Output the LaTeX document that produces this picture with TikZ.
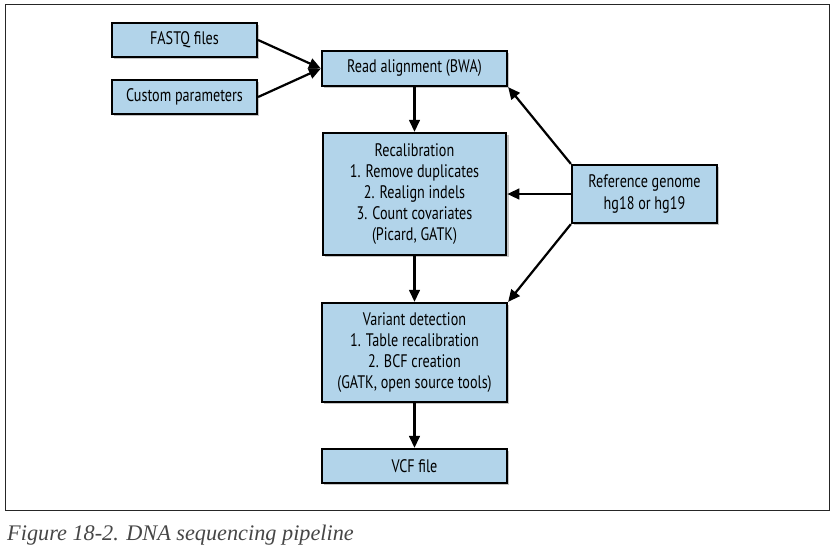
\documentclass[tikz,border=0pt]{standalone}
\usepackage{fontspec}
\setmainfont{PT Sans}[FakeStretch=0.78]
\newfontfamily\capfont{Liberation Serif}
\usepackage{tikz}
\usetikzlibrary{arrows.meta,shadows}
\definecolor{BoxBlue}{RGB}{178,212,234}
\definecolor{CaptionGray}{RGB}{70,70,70}

\begin{document}
\begin{tikzpicture}[
    x=0.03cm, y=-0.03cm,
    font=\fontsize{15.5}{18}\selectfont,
    >={Triangle[length=3.6mm,width=3.2mm]},
    stagebox/.style={
        draw,
        line width=1.9pt,
        align=center,
        inner sep=0pt,
        fill=BoxBlue,
        drop shadow={shadow xshift=2pt, shadow yshift=-2pt, fill=black!45}
    },
    arrow/.style={->, line width=1.9pt}
]
\useasboundingbox (0,0) rectangle (836,547);
\draw[line width=0.8pt, black!85] (5,4) rectangle (829,510);

% inputs
\node[stagebox, minimum width=4.35cm, minimum height=1.02cm] (fastq) at (184.5,40) {FASTQ files};
\node[stagebox, minimum width=4.35cm, minimum height=1.02cm] (custom) at (184.5,97) {Custom parameters};

% pipeline stages
\node[stagebox, minimum width=5.55cm, minimum height=1.05cm] (align) at (414.5,68.5) {Read alignment (BWA)};
\node[stagebox, minimum width=5.5cm, minimum height=3.66cm] (recal) at (414.5,194) {Recalibration\\1. Remove duplicates\\2. Realign indels\\3. Count covariates\\(Picard, GATK)};
\node[stagebox, minimum width=5.55cm, minimum height=2.97cm] (variant) at (414.5,352.5) {Variant detection\\1. Table recalibration\\2. BCF creation\\(GATK, open source tools)};
\node[stagebox, minimum width=5.55cm, minimum height=1.02cm] (vcf) at (414.5,466) {VCF file};
\node[stagebox, minimum width=4.35cm, minimum height=1.74cm] (ref) at (644.5,194) {Reference genome\\hg18 or hg19};

\draw[arrow] (fastq.east) -- (align.west);
\draw[arrow] (custom.east) -- (align.west);
\draw[arrow] (align) -- (recal);
\draw[arrow] (recal) -- (variant);
\draw[arrow] (variant) -- (vcf);
\draw[arrow] (ref.north west) -- (align.south east);
\draw[arrow] (ref.west) -- (recal.east);
\draw[arrow] (ref.south west) -- (variant.north east);

\node[anchor=base west, inner sep=0pt, text=CaptionGray, font=\capfont\itshape\fontsize{19}{21}\selectfont] (caption) at (7,540) {Figure 18-2. DNA sequencing pipeline};
\end{tikzpicture}
\end{document}
